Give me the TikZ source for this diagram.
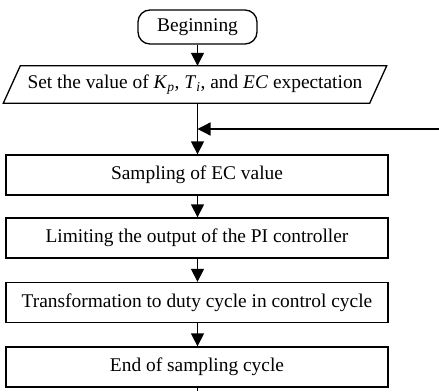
\documentclass[tikz,border=0pt]{standalone}
\usepackage{fontspec}
\setmainfont{Liberation Serif}
\usetikzlibrary{arrows.meta,calc}
\begin{document}
\begin{tikzpicture}[x=1pt,y=-1pt,
  every node/.style={font=\fontsize{19.4}{23}\selectfont, inner sep=0pt},
  procbox/.style={draw, line width=1.3pt, minimum width=382pt, minimum height=40pt},
  termbox/.style={draw, line width=1.3pt, rounded corners=12pt, minimum width=119pt, minimum height=34pt},
  flow/.style={line width=1.3pt, -{Triangle[width=13pt,length=13pt]}},
  plain/.style={line width=1.3pt}]
\useasboundingbox (0,0) rectangle (439,391);

% terminal and input/output blocks
\node[termbox] (begin) at (197.5,27) {Beginning};
\node[minimum width=366pt, minimum height=37pt] (set) at (195,84.5)
  {Set the value of \textit{K}\textsubscript{\textit{p}}, \textit{T}\textsubscript{\textit{i}}, and \textit{EC} expectation};
\draw[plain] ($(set.north west)+(8.5,0)$) -- ($(set.north east)+(8.5,0)$)
  -- ($(set.south east)+(-8.5,0)$) -- ($(set.south west)+(-8.5,0)$) -- cycle;

% process blocks
\node[procbox] (samp) at (197,175) {Sampling of EC value};
\node[procbox] (lim) at (197,238) {Limiting the output of the PI controller};
\node[procbox] (trans) at (197,302.5) {Transformation to duty cycle in control cycle};
\node[procbox] (end) at (197,367) {End of sampling cycle};

% junction of the loop and free ends
\coordinate (join) at (197.5,129);
\coordinate (loopin) at (439,129);
\coordinate (out) at (197.5,391);

% connectors
\draw[flow] (begin.south) -- (begin.south |- set.north);
\draw[plain] (begin.south |- set.south) -- (join);
\draw[flow] (join) -- (join |- samp.north);
\draw[flow] (loopin) -- (join);
\draw[flow] (samp.south -| join) -- (lim.north -| join);
\draw[flow] (lim.south -| join) -- (trans.north -| join);
\draw[flow] (trans.south -| join) -- (end.north -| join);
\draw[plain] (end.south -| join) -- (out);
\end{tikzpicture}
\end{document}
